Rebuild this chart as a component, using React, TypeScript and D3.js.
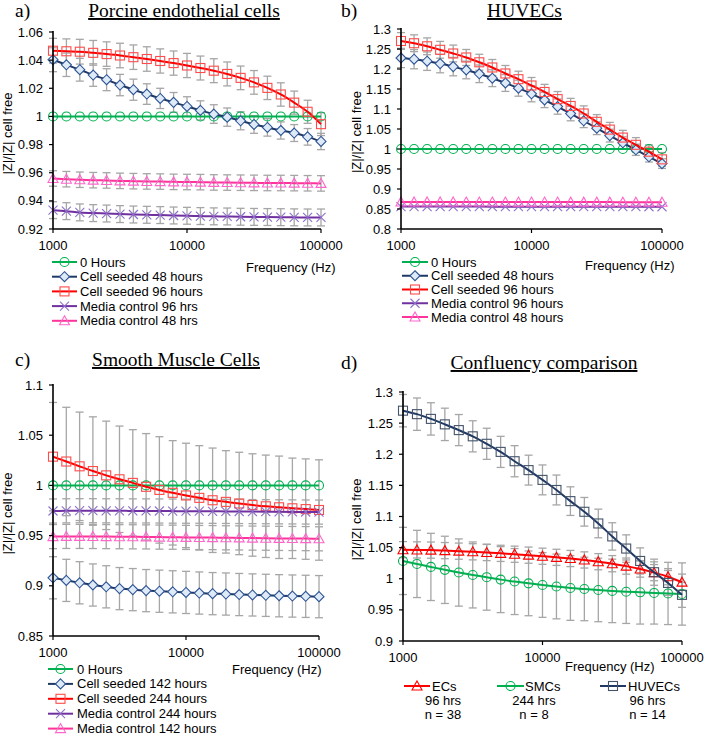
import React from 'react';
import * as d3 from 'd3';

// ---------- shared ----------
const FREQ = [1000, 1259, 1585, 1995, 2512, 3162, 3981, 5012, 6310, 7943, 10000, 12589, 15849, 19953, 25119, 31623, 39811, 50119, 63096, 79433, 100000];
const X_TICKS = [1000, 10000, 100000];
const X_TICK_LABELS = ['1000', '10000', '100000'];

// ---------- panel a: porcine endothelial cells ----------
const A_ZERO = [1, 1, 1, 1, 1, 1, 1, 1, 1, 1, 1, 1, 1, 1, 1, 1, 1, 1, 1, 1, 1];
const A_SEEDED_48 = [1.0403, 1.0367, 1.0332, 1.0294, 1.0261, 1.0223, 1.019, 1.0159, 1.0128, 1.01, 1.0071, 1.0043, 1.0017, 0.9995, 0.9969, 0.9943, 0.9922, 0.99, 0.9882, 0.9855, 0.9822];
const A_SEEDED_48_ERR = [0.0085, 0.0083, 0.0081, 0.008, 0.0078, 0.0076, 0.0075, 0.0073, 0.0072, 0.007, 0.0069, 0.0068, 0.0066, 0.0065, 0.0064, 0.0063, 0.0062, 0.0061, 0.006, 0.0059, 0.0058];
const A_SEEDED_96 = [1.0467, 1.0463, 1.046, 1.0452, 1.0443, 1.0433, 1.0421, 1.0408, 1.0394, 1.0379, 1.0362, 1.0344, 1.0325, 1.0302, 1.0274, 1.0242, 1.0203, 1.0156, 1.0098, 1.0033, 0.9945];
const A_SEEDED_96_ERR = [0.0088, 0.0088, 0.0088, 0.0088, 0.0087, 0.0087, 0.0087, 0.0087, 0.0086, 0.0086, 0.0086, 0.0085, 0.0085, 0.0085, 0.0084, 0.0084, 0.0083, 0.0083, 0.0082, 0.0082, 0.0081];
const A_MEDIA_96 = [0.9334, 0.9327, 0.9318, 0.9313, 0.931, 0.9306, 0.9303, 0.9301, 0.9299, 0.9296, 0.9294, 0.9292, 0.929, 0.9289, 0.9287, 0.9286, 0.9285, 0.9284, 0.9283, 0.9282, 0.9282];
const A_MEDIA_96_ERR = [0.006, 0.006, 0.006, 0.006, 0.006, 0.006, 0.006, 0.006, 0.006, 0.006, 0.006, 0.006, 0.006, 0.006, 0.006, 0.006, 0.006, 0.006, 0.006, 0.006, 0.006];
const A_MEDIA_48 = [0.9559, 0.9554, 0.955, 0.9547, 0.9545, 0.9542, 0.954, 0.9538, 0.9537, 0.9535, 0.9534, 0.9533, 0.9531, 0.953, 0.9529, 0.9528, 0.9527, 0.9527, 0.9526, 0.9525, 0.9524];
const A_MEDIA_48_ERR = [0.0055, 0.0055, 0.0055, 0.0055, 0.0055, 0.0055, 0.0055, 0.0055, 0.0055, 0.0055, 0.0055, 0.0055, 0.0055, 0.0055, 0.0055, 0.0055, 0.0055, 0.0055, 0.0055, 0.0055, 0.0055];
const A_Y_TICKS = [0.92, 0.94, 0.96, 0.98, 1, 1.02, 1.04, 1.06];
const A_Y_LABELS = ['0.92', '0.94', '0.96', '0.98', '1', '1.02', '1.04', '1.06'];
const A_LEGEND = ['0 Hours', 'Cell seeded 48 hours', 'Cell seeded 96 hours', 'Media control 96 hrs', 'Media control 48 hrs'];

// ---------- panel b: HUVECs ----------
const B_ZERO = [1, 1, 1, 1, 1, 1, 1, 1, 1, 1, 1, 1, 1, 1, 1, 1, 1, 1, 1, 1, 1];
const B_SEEDED_48 = [1.2275, 1.2245, 1.2195, 1.2135, 1.206, 1.1975, 1.188, 1.177, 1.165, 1.152, 1.138, 1.1225, 1.106, 1.0885, 1.0705, 1.052, 1.0335, 1.0155, 0.998, 0.9805, 0.9635];
const B_SEEDED_48_ERR = [0.024, 0.024, 0.023, 0.023, 0.023, 0.022, 0.022, 0.021, 0.021, 0.02, 0.02, 0.019, 0.019, 0.018, 0.017, 0.016, 0.016, 0.015, 0.014, 0.013, 0.012];
const B_SEEDED_96 = [1.27, 1.2644, 1.2568, 1.248, 1.2388, 1.2288, 1.2168, 1.2038, 1.1888, 1.1745, 1.1588, 1.1426, 1.1247, 1.1076, 1.0888, 1.068, 1.0485, 1.0286, 1.0105, 0.9933, 0.9741];
const B_SEEDED_96_ERR = [0.021, 0.021, 0.021, 0.021, 0.021, 0.02, 0.02, 0.02, 0.02, 0.02, 0.02, 0.019, 0.019, 0.019, 0.019, 0.018, 0.018, 0.018, 0.018, 0.017, 0.017];
const B_MEDIA_96 = [0.8562, 0.8561, 0.8561, 0.856, 0.856, 0.856, 0.856, 0.8559, 0.8559, 0.8559, 0.8559, 0.8558, 0.8558, 0.8558, 0.8558, 0.8557, 0.8557, 0.8557, 0.8557, 0.8556, 0.8556];
const B_MEDIA_48 = [0.8676, 0.8676, 0.8675, 0.8675, 0.8675, 0.8674, 0.8674, 0.8674, 0.8674, 0.8673, 0.8673, 0.8673, 0.8673, 0.8672, 0.8672, 0.8672, 0.8672, 0.8671, 0.8671, 0.8671, 0.867];
const B_Y_TICKS = [0.8, 0.85, 0.9, 0.95, 1, 1.05, 1.1, 1.15, 1.2, 1.25, 1.3];
const B_Y_LABELS = ['0.8', '0.85', '0.9', '0.95', '1', '1.05', '1.1', '1.15', '1.2', '1.25', '1.3'];
const B_LEGEND = ['0 Hours', 'Cell seeded 48 hours', 'Cell seeded 96 hours', 'Media control 96 hours', 'Media control 48 hours'];

// ---------- panel c: smooth muscle cells ----------
const C_ZERO = [1, 1, 1, 1, 1, 1, 1, 1, 1, 1, 1, 1, 1, 1, 1, 1, 1, 1, 1, 1, 1];
const C_SEEDED_142 = [0.908, 0.9054, 0.903, 0.9008, 0.899, 0.8972, 0.8962, 0.8952, 0.8946, 0.894, 0.8934, 0.8928, 0.8922, 0.8918, 0.8913, 0.8909, 0.8905, 0.8901, 0.8898, 0.8895, 0.8892];
const C_SEEDED_142_ERR = [0.021, 0.021, 0.021, 0.021, 0.021, 0.021, 0.021, 0.021, 0.021, 0.021, 0.021, 0.021, 0.021, 0.021, 0.021, 0.021, 0.021, 0.021, 0.021, 0.021, 0.021];
const C_SEEDED_244 = [1.0286, 1.0238, 1.019, 1.0143, 1.01, 1.0061, 1.0025, 0.9986, 0.9955, 0.9926, 0.99, 0.9876, 0.9852, 0.9836, 0.982, 0.9805, 0.9792, 0.9782, 0.9772, 0.9764, 0.9755];
const C_SEEDED_244_ERR = [0.054, 0.054, 0.054, 0.054, 0.054, 0.053, 0.053, 0.053, 0.053, 0.052, 0.052, 0.052, 0.052, 0.051, 0.051, 0.051, 0.051, 0.051, 0.05, 0.05, 0.05];
const C_MEDIA_244 = [0.9745, 0.9747, 0.9748, 0.9748, 0.9747, 0.9747, 0.9746, 0.9746, 0.9745, 0.9744, 0.9743, 0.9743, 0.9742, 0.9741, 0.974, 0.9739, 0.9738, 0.9737, 0.9736, 0.9735, 0.9734];
const C_MEDIA_244_ERR = [0.012, 0.012, 0.012, 0.012, 0.012, 0.012, 0.012, 0.012, 0.012, 0.012, 0.012, 0.012, 0.012, 0.012, 0.012, 0.012, 0.012, 0.012, 0.012, 0.012, 0.012];
const C_MEDIA_142 = [0.949, 0.9492, 0.9492, 0.9491, 0.949, 0.9489, 0.9488, 0.9487, 0.9485, 0.9484, 0.9482, 0.9481, 0.948, 0.9478, 0.9477, 0.9475, 0.9474, 0.9472, 0.9471, 0.947, 0.9468];
const C_MEDIA_142_ERR = [0.012, 0.012, 0.012, 0.012, 0.012, 0.012, 0.012, 0.012, 0.012, 0.012, 0.012, 0.012, 0.012, 0.012, 0.012, 0.012, 0.012, 0.012, 0.012, 0.012, 0.012];
const C_Y_TICKS = [0.85, 0.9, 0.95, 1, 1.05, 1.1];
const C_Y_LABELS = ['0.85', '0.9', '0.95', '1', '1.05', '1.1'];
const C_LEGEND = ['0 Hours', 'Cell seeded 142 hours', 'Cell seeded 244 hours', 'Media control 244 hours', 'Media control 142 hours'];

// ---------- panel d: confluency comparison ----------
const D_ECS = A_SEEDED_96;
const D_ECS_ERR = [0.013, 0.013, 0.013, 0.013, 0.013, 0.013, 0.013, 0.013, 0.013, 0.013, 0.013, 0.013, 0.013, 0.013, 0.013, 0.013, 0.013, 0.013, 0.013, 0.013, 0.013];
const D_SMCS = C_SEEDED_244;
const D_SMCS_ERR = C_SEEDED_244_ERR;
const D_HUVECS = B_SEEDED_96;
const D_HUVECS_ERR = [0.026, 0.026, 0.026, 0.026, 0.025, 0.025, 0.025, 0.025, 0.025, 0.024, 0.024, 0.024, 0.023, 0.023, 0.023, 0.022, 0.022, 0.021, 0.021, 0.02, 0.02];
const D_Y_TICKS = [0.9, 0.95, 1, 1.05, 1.1, 1.15, 1.2, 1.25, 1.3];
const D_Y_LABELS = ['0.9', '0.95', '1', '1.05', '1.1', '1.15', '1.2', '1.25', '1.3'];
const D_LEGEND = [
  ['ECs', '96 hrs', 'n = 38'],
  ['SMCs', '244 hrs', 'n = 8'],
  ['HUVECs', '96 hrs', 'n = 14'],
];

// ---------- styles ----------
const GREEN = '#00B050';
const NAVY = '#1F3864';
const RED = '#FF0000';
const PURPLE = '#7030A0';
const PINK = '#FF3399';
const ERR = '#A6A6A6';
const SANS = '"Liberation Sans", Arial, sans-serif';
const SERIF = '"Liberation Serif", "Times New Roman", serif';

type MarkerType = 'circle' | 'diamond' | 'square' | 'x' | 'triangle';
interface Series {
  values: number[];
  err?: number[];
  line: string;
  mStroke: string;
  mFill: string;
  marker: MarkerType;
}

const S_ZERO = (v: number[]): Series => ({ values: v, line: GREEN, mStroke: GREEN, mFill: 'none', marker: 'circle' });

function Marker({ type, x, y, stroke, fill }: { type: MarkerType; x: number; y: number; stroke: string; fill: string }) {
  const sw = 1.1;
  if (type === 'circle') return <circle cx={x} cy={y} r={4.5} fill={fill} stroke={stroke} strokeWidth={sw} />;
  if (type === 'square') return <rect x={x - 4.5} y={y - 4.5} width={9} height={9} fill={fill} stroke={stroke} strokeWidth={sw} />;
  if (type === 'diamond')
    return <path d={`M${x},${y - 5}L${x + 5},${y}L${x},${y + 5}L${x - 5},${y}Z`} fill={fill} stroke={stroke} strokeWidth={sw} />;
  if (type === 'triangle')
    return <path d={`M${x},${y - 5}L${x + 5},${y + 4}L${x - 5},${y + 4}Z`} fill={fill} stroke={stroke} strokeWidth={sw} />;
  return (
    <g stroke={stroke} strokeWidth={sw}>
      <line x1={x - 4.5} y1={y - 4.5} x2={x + 4.5} y2={y + 4.5} />
      <line x1={x - 4.5} y1={y + 4.5} x2={x + 4.5} y2={y - 4.5} />
    </g>
  );
}

interface PanelCfg {
  tag: string;
  tagX: number;
  title: string;
  titleX: number;
  titleY: number;
  x0: number;
  x1: number;
  yTop: number;
  yBot: number;
  yMin: number;
  yMax: number;
  yTicks: number[];
  yLabels: string[];
  ylabX: number;
  series: Series[];
  freqX: number;
  freqY: number;
}

function Panel({ cfg }: { cfg: PanelCfg }) {
  const x = d3.scaleLog().domain([1000, 100000]).range([cfg.x0, cfg.x1]);
  const y = d3.scaleLinear().domain([cfg.yMin, cfg.yMax]).range([cfg.yBot, cfg.yTop]);
  const lineGen = d3
    .line<number>()
    .x((_, i) => x(FREQ[i]))
    .y((v) => y(v))
    .curve(d3.curveMonotoneX);
  const midY = (cfg.yTop + cfg.yBot) / 2 + 3;
  return (
    <g>
      <text x={cfg.tagX} y={cfg.titleY} fontFamily={SERIF} fontSize={19.5} fill="#000">{cfg.tag}</text>
      <text x={cfg.titleX} y={cfg.titleY} fontFamily={SERIF} fontSize={19.5} textAnchor="middle" fill="#000" style={{ textDecoration: 'underline' }}>
        {cfg.title}
      </text>
      {/* error bars */}
      {cfg.series.map((s, si) =>
        s.err ? (
          <g key={'e' + si} stroke={ERR} strokeWidth={1.3}>
            {s.values.map((v, i) => {
              const cx = x(FREQ[i]);
              const t = y(v + s.err![i]);
              const b = y(v - s.err![i]);
              return (
                <g key={i}>
                  <line x1={cx} x2={cx} y1={t} y2={b} />
                  <line x1={cx - 4} x2={cx + 4} y1={t} y2={t} />
                  <line x1={cx - 4} x2={cx + 4} y1={b} y2={b} />
                </g>
              );
            })}
          </g>
        ) : null
      )}
      {/* series */}
      {cfg.series.map((s, si) => (
        <g key={'s' + si}>
          <path d={lineGen(s.values) || ''} fill="none" stroke={s.line} strokeWidth={2} />
          {s.values.map((v, i) => (
            <Marker key={i} type={s.marker} x={x(FREQ[i])} y={y(v)} stroke={s.mStroke} fill={s.mFill} />
          ))}
        </g>
      ))}
      {/* axes */}
      <line x1={cfg.x0} x2={cfg.x0} y1={cfg.yTop - 1} y2={cfg.yBot} stroke="#000" strokeWidth={1.6} />
      <line x1={cfg.x0} x2={cfg.x1} y1={cfg.yBot} y2={cfg.yBot} stroke="#000" strokeWidth={1.6} />
      {cfg.yTicks.map((t, i) => (
        <g key={'yt' + i}>
          <line x1={cfg.x0 - 4} x2={cfg.x0} y1={y(t)} y2={y(t)} stroke="#000" strokeWidth={1.2} />
          <text x={cfg.x0 - 10} y={y(t)} dy="0.35em" textAnchor="end" fontFamily={SANS} fontSize={13} fill="#000">
            {cfg.yLabels[i]}
          </text>
        </g>
      ))}
      {X_TICKS.map((t, i) => (
        <g key={'xt' + i}>
          <line x1={x(t)} x2={x(t)} y1={cfg.yBot} y2={cfg.yBot + 4} stroke="#000" strokeWidth={1.2} />
          <text x={x(t)} y={cfg.yBot + 21} textAnchor="middle" fontFamily={SANS} fontSize={13} fill="#000">
            {X_TICK_LABELS[i]}
          </text>
        </g>
      ))}
      <text
        transform={`translate(${cfg.ylabX},${midY}) rotate(-90)`}
        textAnchor="middle"
        fontFamily={SANS}
        fontSize={13}
        fill="#000"
      >
        |Z|/|Z|  cell free
      </text>
      <text x={cfg.freqX} y={cfg.freqY} fontFamily={SANS} fontSize={13} fill="#000">Frequency (Hz)</text>
    </g>
  );
}

function Legend({ series, names, lx0, lx1, tx, y0, dy }: { series: Series[]; names: string[]; lx0: number; lx1: number; tx: number; y0: number; dy: number }) {
  return (
    <g>
      {series.map((s, i) => {
        const yy = y0 + i * dy;
        return (
          <g key={i}>
            <line x1={lx0} x2={lx1} y1={yy} y2={yy} stroke={s.line} strokeWidth={2} />
            <Marker type={s.marker} x={(lx0 + lx1) / 2} y={yy} stroke={s.mStroke} fill={s.mFill} />
            <text x={tx} y={yy} dy="0.35em" fontFamily={SANS} fontSize={13} fill="#000">{names[i]}</text>
          </g>
        );
      })}
    </g>
  );
}

export default function App() {
  const aSeries: Series[] = [
    S_ZERO(A_ZERO),
    { values: A_SEEDED_48, err: A_SEEDED_48_ERR, line: NAVY, mStroke: '#2F5597', mFill: '#DEEBF7', marker: 'diamond' },
    { values: A_SEEDED_96, err: A_SEEDED_96_ERR, line: RED, mStroke: '#FF4B4B', mFill: 'none', marker: 'square' },
    { values: A_MEDIA_96, err: A_MEDIA_96_ERR, line: PURPLE, mStroke: '#8E6FC8', mFill: 'none', marker: 'x' },
    { values: A_MEDIA_48, err: A_MEDIA_48_ERR, line: PINK, mStroke: '#FF66CC', mFill: 'none', marker: 'triangle' },
  ];
  const bSeries: Series[] = [
    S_ZERO(B_ZERO),
    { values: B_SEEDED_48, err: B_SEEDED_48_ERR, line: NAVY, mStroke: '#2F5597', mFill: '#DEEBF7', marker: 'diamond' },
    { values: B_SEEDED_96, err: B_SEEDED_96_ERR, line: RED, mStroke: '#FF4B4B', mFill: 'none', marker: 'square' },
    { values: B_MEDIA_96, line: PURPLE, mStroke: '#8E6FC8', mFill: 'none', marker: 'x' },
    { values: B_MEDIA_48, line: PINK, mStroke: '#FF66CC', mFill: 'none', marker: 'triangle' },
  ];
  const cSeries: Series[] = [
    S_ZERO(C_ZERO),
    { values: C_SEEDED_142, err: C_SEEDED_142_ERR, line: NAVY, mStroke: '#2F5597', mFill: '#DEEBF7', marker: 'diamond' },
    { values: C_SEEDED_244, err: C_SEEDED_244_ERR, line: RED, mStroke: '#FF4B4B', mFill: 'none', marker: 'square' },
    { values: C_MEDIA_244, err: C_MEDIA_244_ERR, line: PURPLE, mStroke: '#8E6FC8', mFill: 'none', marker: 'x' },
    { values: C_MEDIA_142, err: C_MEDIA_142_ERR, line: PINK, mStroke: '#FF66CC', mFill: 'none', marker: 'triangle' },
  ];
  const dSeries: Series[] = [
    { values: D_ECS, err: D_ECS_ERR, line: RED, mStroke: RED, mFill: 'none', marker: 'triangle' },
    { values: D_SMCS, err: D_SMCS_ERR, line: GREEN, mStroke: GREEN, mFill: 'none', marker: 'circle' },
    { values: D_HUVECS, err: D_HUVECS_ERR, line: NAVY, mStroke: '#44546A', mFill: 'none', marker: 'square' },
  ];

  const panels: PanelCfg[] = [
    { tag: 'a)', tagX: 15, title: 'Porcine endothelial cells', titleX: 184, titleY: 17, x0: 53, x1: 321, yTop: 32, yBot: 229, yMin: 0.92, yMax: 1.06, yTicks: A_Y_TICKS, yLabels: A_Y_LABELS, ylabX: 12, series: aSeries, freqX: 246, freqY: 271.5 },
    { tag: 'b)', tagX: 341, title: 'HUVECs', titleX: 524.5, titleY: 17, x0: 401, x1: 662, yTop: 29, yBot: 229, yMin: 0.8, yMax: 1.3, yTicks: B_Y_TICKS, yLabels: B_Y_LABELS, ylabX: 361, series: bSeries, freqX: 585, freqY: 269.5 },
    { tag: 'c)', tagX: 15, title: 'Smooth Muscle Cells', titleX: 176, titleY: 366, x0: 53, x1: 319, yTop: 385, yBot: 636, yMin: 0.85, yMax: 1.1, yTicks: C_Y_TICKS, yLabels: C_Y_LABELS, ylabX: 12, series: cSeries, freqX: 232, freqY: 673.8 },
    { tag: 'd)', tagX: 341, title: 'Confluency comparison', titleX: 544, titleY: 369, x0: 403, x1: 682, yTop: 392, yBot: 641, yMin: 0.9, yMax: 1.3, yTicks: D_Y_TICKS, yLabels: D_Y_LABELS, ylabX: 361, series: dSeries, freqX: 565, freqY: 670.5 },
  ];

  const dLegendPos = [
    { lx0: 404, lx1: 430, tx: 432, cx: 443 },
    { lx0: 497, lx1: 524, tx: 525, cx: 534 },
    { lx0: 600, lx1: 626, tx: 628, cx: 647.5 },
  ];

  return (
    <svg width={705} height={736} style={{ position: 'absolute', left: 0, top: 0, background: '#fff' }}>
      <rect width={705} height={736} fill="#fff" />
      {panels.map((p, i) => (
        <Panel key={i} cfg={p} />
      ))}
      <Legend series={aSeries} names={A_LEGEND} lx0={52} lx1={77} tx={80} y0={262} dy={14.7} />
      <Legend series={bSeries} names={B_LEGEND} lx0={402} lx1={428} tx={431} y0={262} dy={13.75} />
      <Legend series={cSeries} names={C_LEGEND} lx0={48} lx1={73} tx={77} y0={669} dy={14.9} />
      {dSeries.map((s, i) => {
        const pos = dLegendPos[i];
        return (
          <g key={i}>
            <line x1={pos.lx0} x2={pos.lx1} y1={686} y2={686} stroke={s.line} strokeWidth={2} />
            <Marker type={s.marker} x={(pos.lx0 + pos.lx1) / 2} y={686} stroke={s.mStroke} fill={s.mFill} />
            <text x={pos.tx} y={686} dy="0.35em" fontFamily={SANS} fontSize={13} fill="#000">{D_LEGEND[i][0]}</text>
            <text x={pos.cx} y={700} dy="0.35em" textAnchor="middle" fontFamily={SANS} fontSize={13} fill="#000">{D_LEGEND[i][1]}</text>
            <text x={pos.cx} y={714.5} dy="0.35em" textAnchor="middle" fontFamily={SANS} fontSize={13} fill="#000">{D_LEGEND[i][2]}</text>
          </g>
        );
      })}
    </svg>
  );
}
